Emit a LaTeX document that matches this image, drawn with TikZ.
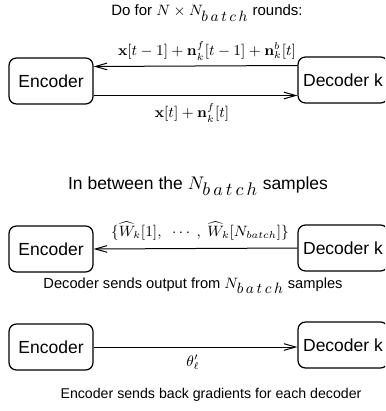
\documentclass[tikz,border=0pt]{standalone}
\usepackage{amsmath,amssymb}
\usepackage[no-math]{fontspec}
\setmainfont{Liberation Sans}
\usepackage{tikz}
\usetikzlibrary{positioning, arrows.meta}
\definecolor{nInk}{HTML}{000000}
\newcommand{\Nbatch}{N_{\textstyle b\,a\,t\,c\,h}}
\tikzset{
  party/.style={draw=nInk, line width=0.75pt, rounded corners=4.5pt, fill=white,
    minimum width=50.4pt, minimum height=27.6pt, inner sep=0pt,
    font=\fontsize{10.5}{12}\selectfont},
  msgarrow/.style={-{Straight Barb[length=7pt, width=4pt]}, line width=0.6pt, nInk},
  msglabel/.style={font=\fontsize{8.6}{10}\selectfont, inner sep=1pt},
  headline/.style={font=\fontsize{9.0}{11}\selectfont, inner sep=1pt},
  footnote/.style={font=\fontsize{8.5}{10}\selectfont, inner sep=1pt},
}

\begin{document}
\begin{tikzpicture}[x=0.6pt, y=-0.6pt]
  \clip (0,0) rectangle (385,411);
  % round loop
  \node[headline] (t1) at (207,13) {Do for $N\times \Nbatch$ rounds:};
  \node[party] (enc1) at (51,81) {Encoder};
  \node[party, minimum width=54pt] (dec1) at (343,80) {Decoder k};
  \draw[msgarrow] ([yshift=8.7pt]dec1.west) -- ([yshift=8.7pt]enc1.east -| enc1.east);
  \draw[msgarrow] ([yshift=-8.7pt]enc1.east) -- ([yshift=-8.7pt]enc1.east -| dec1.west);
  \node[msglabel] (l1) at (207,51)
    {$\mathbf{x}[t-1]+\mathbf{n}_k^f[t-1]+\mathbf{n}_k^b[t]$};
  \node[msglabel] (l2) at (192,113) {$\mathbf{x}[t]+\mathbf{n}_k^f[t]$};
  % between batches
  \node[headline, font=\fontsize{10.5}{12}\selectfont] (t2) at (198,186)
    {In between the $\Nbatch$ samples};
  \node[party] (enc2) at (51,249) {Encoder};
  \node[party, minimum width=54pt] (dec2) at (343,248) {Decoder k};
  \draw[msgarrow] (dec2.west) -- (enc2.east);
  \node[msglabel] (l3) at (200,231)
    {$\{\widehat{W}_k[1],\ \ \cdots\ ,\ \widehat{W}_k[N_{batch}]\}$};
  \node[footnote, font=\fontsize{8.8}{10}\selectfont] (c2) at (193,286)
    {Decoder sends output from $\Nbatch$ samples};
  % gradients back
  \node[party] (enc3) at (51,347) {Encoder};
  \node[party, minimum width=54pt] (dec3) at (343,345) {Decoder k};
  \draw[msgarrow] (enc3.east) -- (enc3.east -| dec3.west);
  \node[msglabel] (l4) at (193,362) {$\theta'_\ell$};
  \node[footnote] (c3) at (211,395) {Encoder sends back gradients for each decoder};
\end{tikzpicture}
\end{document}
